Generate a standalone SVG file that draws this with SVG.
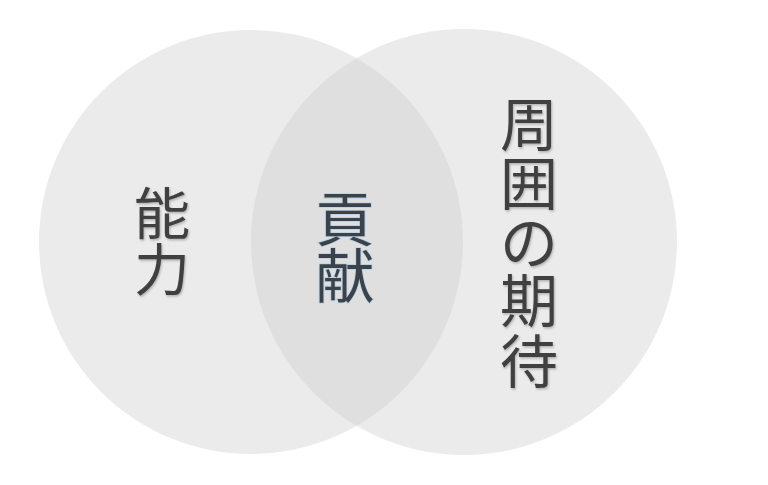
<svg xmlns="http://www.w3.org/2000/svg" width="768" height="485" viewBox="0 0 768 485">
  <defs>
    <style>
      .circle { fill: #d0d0d0; fill-opacity: 0.42; }
      .label { font-family: "Noto Sans CJK JP", "Noto Sans CJK SC", sans-serif; fill: #404040; text-anchor: middle; }
      .center { fill: #3b4249; stroke: #b8d0e4; stroke-width: 1.6; paint-order: stroke; }
    </style>
    <filter id="shadow" x="-20%" y="-20%" width="140%" height="140%">
      <feDropShadow dx="1" dy="1.5" stdDeviation="1" flood-color="#000000" flood-opacity="0.25"/>
    </filter>
  </defs>
  <rect width="768" height="485" fill="#ffffff"/>
  <g id="node-ability">
    <circle class="circle" cx="251" cy="242" r="212"/>
    <text class="label" font-size="56" filter="url(#shadow)"><tspan x="162" y="234">能</tspan><tspan x="162" y="290">力</tspan></text>
  </g>
  <g id="node-expectation">
    <circle class="circle" cx="464" cy="242" r="213"/>
    <text class="label" font-size="58" filter="url(#shadow)"><tspan x="529" y="146">周</tspan><tspan x="529" y="205">囲</tspan><tspan x="529" y="264">の</tspan><tspan x="529" y="322">期</tspan><tspan x="529" y="383">待</tspan></text>
  </g>
  <g id="node-contribution">
    <text class="label center" font-size="59"><tspan x="345" y="241">貢</tspan><tspan x="345" y="298">献</tspan></text>
  </g>
  <g id="connectors"></g>
</svg>
